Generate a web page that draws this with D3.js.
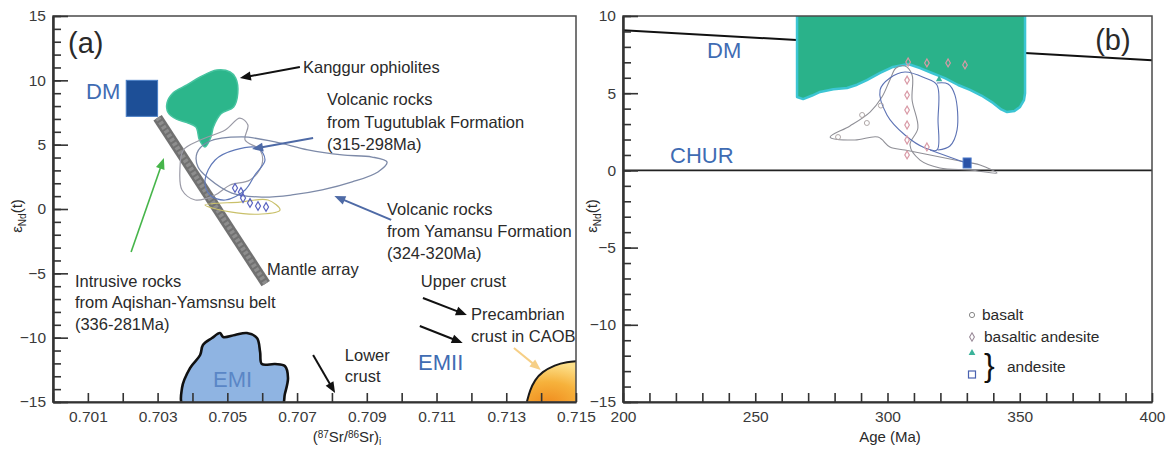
<!DOCTYPE html>
<html><head><meta charset="utf-8">
<script src="https://cdn.jsdelivr.net/npm/d3@7"></script>
<style>
html,body{margin:0;padding:0;background:#fff;}
svg{display:block;font-family:"Liberation Sans",Arial,sans-serif;}
</style></head><body>
<svg id="chart" width="1167" height="452"></svg>
<script>
// ---------- panel (a): (87Sr/86Sr)i vs eNd(t) ----------
const srTicks = [0.701, 0.703, 0.705, 0.707, 0.709, 0.711, 0.713, 0.715];
const epsTicksA = [-15, -10, -5, 0, 5, 10, 15];

const dmBox = [[0.7021, 7.2], [0.7030, 10.0]];
const mantleArray = [[0.7030, 7.1], [0.7061, -5.8]];

const kanggurField = [[0.70327, 8.24], [0.70344, 9.02], [0.70384, 9.64], [0.70422, 10.26], [0.70470, 10.80],
  [0.70508, 10.65], [0.70524, 10.18], [0.70530, 9.02], [0.70518, 7.93], [0.70482, 7.40], [0.70460, 6.37],
  [0.70453, 5.60], [0.70436, 4.82], [0.70420, 5.36], [0.70410, 6.37], [0.70384, 6.72], [0.70354, 6.98], [0.70330, 7.50]];

const tugutublakField = [[0.70413, 4.35], [0.70445, 5.21], [0.70542, 5.60], [0.70637, 5.21], [0.70731, 4.59],
  [0.70829, 4.20], [0.70915, 4.04], [0.70958, 3.65], [0.70932, 2.88], [0.70858, 2.10], [0.70772, 1.48],
  [0.70685, 1.09], [0.70599, 0.93], [0.70513, 1.24], [0.70445, 2.41], [0.70416, 3.26]];

const intrusiveField = [[0.70374, 4.59], [0.70422, 5.36], [0.70494, 6.14], [0.70536, 7.07], [0.70559, 6.53],
  [0.70551, 5.36], [0.70594, 4.59], [0.70599, 3.42], [0.70565, 2.25], [0.70508, 1.87], [0.70465, 1.09],
  [0.70408, 0.70], [0.70370, 1.48], [0.70364, 3.03]];

const yamansuField = [[0.70465, 3.81], [0.70522, 4.59], [0.70588, 4.74], [0.70608, 3.81], [0.70579, 2.64],
  [0.70551, 1.48], [0.70494, 0.70], [0.70450, 1.09], [0.70436, 2.25]];

const andesiteFieldA = [[0.70436, 0.31], [0.70508, -0.23], [0.70599, -0.39], [0.70651, -0.08], [0.70617, 0.70], [0.70536, 0.54]];

const yamansuSamples = [[0.70522, 1.63], [0.70539, 1.32], [0.70545, 0.85], [0.70565, 0.47], [0.70588, 0.23], [0.70611, 0.16]];

const emiField = [[0.70376, -15.4], [0.70370, -13.91], [0.70393, -12.36], [0.70422, -11.35], [0.70430, -10.57],
  [0.70456, -10.03], [0.70479, -9.64], [0.70488, -9.95], [0.70522, -9.79], [0.70556, -9.64], [0.70585, -10.03],
  [0.70594, -11.11], [0.70599, -12.05], [0.70637, -12.05], [0.70665, -12.20], [0.70674, -13.13],
  [0.70665, -14.38], [0.70654, -15.4]];

const caobField = [[0.71359, -15.4], [0.71359, -15.0], [0.71368, -14.07], [0.71382, -13.29], [0.71402, -12.67],
  [0.71440, -12.12], [0.71471, -11.89], [0.71520, -11.78], [0.71560, -11.8], [0.71560, -15.4]];

// ---------- panel (b): Age vs eNd(t) ----------
const ageTicks = [200, 250, 300, 350, 400];
const epsTicksB = [-15, -10, -5, 0, 5, 10];

const dmEvolution = [[200, 9.08], [400, 7.13]];
const churLine = [[200, 0], [400, 0]];

const kanggurAgeField = [[265.8, 10.4], [265.8, 4.75], [268.1, 4.62], [271.5, 4.85], [274.5, 5.08], [279.5, 5.25],
  [284.7, 5.34], [288.5, 5.55], [292.2, 5.85], [297.2, 6.31], [302.1, 6.70], [307.8, 6.89], [312.3, 6.63],
  [316.8, 6.31], [321.7, 5.98], [326.7, 5.53], [331.2, 5.21], [335.5, 4.85], [339.9, 4.37], [343.0, 3.95],
  [345.2, 3.78], [348.0, 3.85], [350.1, 4.11], [351.6, 4.55], [352.0, 5.0], [352.0, 10.4]];

const basaltField = [[278.3, 2.16], [285.8, 2.88], [293.4, 3.78], [297.9, 4.75], [300.9, 5.86], [303.2, 6.63],
  [306.6, 6.76], [309.3, 6.18], [309.3, 4.56], [311.5, 2.75], [308.5, 1.64], [312.3, 0.67], [319.8, 0.16],
  [331.2, 0.03], [341.4, -0.17], [335.0, 0.35], [325.5, 0.67], [316.1, 1.00], [306.6, 1.32], [300.9, 1.52],
  [296.4, 2.16], [287.7, 1.97]];

const basAndesiteFieldA = [[297.2, 5.21], [299.8, 3.59], [306.6, 2.29], [314.2, 1.45], [318.7, 1.32], [319.1, 3.26],
  [318.7, 5.53], [314.2, 5.98], [306.6, 6.37], [300.9, 5.98]];
const basAndesiteFieldB = [[318.7, 5.66], [322.9, 5.60], [325.5, 4.88], [326.3, 2.62], [323.6, 1.58], [319.1, 1.32]];
const andesiteTie = [[316.1, 1.32], [329.7, 0.48]];

const basaltPts = [[281.3, 2.16], [290.4, 3.59], [292.2, 3.07], [297.5, 4.2]];
const basAndesitePts = [[307.8, 7.02], [314.9, 6.96], [322.9, 6.96], [329.3, 6.83],
  [307.4, 5.85], [307.4, 4.88], [307.4, 3.91], [307.4, 2.94], [307.4, 1.97], [307.4, 1.00], [314.9, 1.52]];
const andesiteTriPts = [[319.5, 5.9]];
const andesiteSqPts = [[330.1, 0.48]];

const legendItems = ["basalt", "basaltic andesite", "andesite"];

// ---------- layout ----------
const svg = d3.select("#chart");
const textColor = "#2a2a2a";
const blueText = "#3f6cb3";

const xA = d3.scaleLinear().domain([0.700, 0.715]).range([53, 576]);
const yA = d3.scaleLinear().domain([-15, 15]).range([402, 16]);
const xB = d3.scaleLinear().domain([200, 400]).range([623, 1152]);
const yB = d3.scaleLinear().domain([-15, 10]).range([402, 16]);

const defs = svg.append("defs");
function addClip(id, x, y) {
  defs.append("clipPath").attr("id", id).append("rect")
    .attr("x", x.range()[0]).attr("y", y.range()[1])
    .attr("width", x.range()[1] - x.range()[0]).attr("height", y.range()[0] - y.range()[1]);
}
addClip("clipA", xA, yA);
addClip("clipB", xB, yB);

const caobGrad = defs.append("radialGradient").attr("id", "caobGrad")
  .attr("cx", "30%").attr("cy", "95%").attr("r", "90%");
caobGrad.append("stop").attr("offset", "0%").attr("stop-color", "#f08a1c");
caobGrad.append("stop").attr("offset", "55%").attr("stop-color", "#f6b23c");
caobGrad.append("stop").attr("offset", "100%").attr("stop-color", "#fde08a");

const closed = (x, y) => d3.line().x(d => x(d[0])).y(d => y(d[1])).curve(d3.curveCatmullRomClosed.alpha(0.5));
const straight = (x, y) => d3.line().x(d => x(d[0])).y(d => y(d[1]));

function arrow(g, x, y, from, to, color, width, headLen, headW) {
  const x0 = x(from[0]), y0 = y(from[1]), x1 = x(to[0]), y1 = y(to[1]);
  const dx = x1 - x0, dy = y1 - y0, L = Math.hypot(dx, dy), ux = dx / L, uy = dy / L;
  const bx = x1 - ux * headLen, by = y1 - uy * headLen;
  g.append("line").attr("x1", x0).attr("y1", y0).attr("x2", bx + ux * 1).attr("y2", by + uy * 1)
    .attr("stroke", color).attr("stroke-width", width);
  g.append("path")
    .attr("d", `M${x1},${y1}L${bx - uy * headW / 2},${by + ux * headW / 2}L${bx + uy * headW / 2},${by - ux * headW / 2}Z`)
    .attr("fill", color);
}

function label(g, x, y, d) {
  const t = g.append("text").attr("x", x(d.at[0])).attr("y", y(d.at[1]))
    .attr("font-size", d.size || 16.5).attr("fill", d.color || textColor);
  d.lines.forEach((s, i) => t.append("tspan").attr("x", x(d.at[0])).attr("dy", i ? (d.gap || 22) : 0).text(s));
}

function drawAxes(g, x, y, xMajors, xMinors, yMajors, yMinors, xFmt) {
  const [x0, x1] = x.range(), [yb, yt] = y.range();
  // frame
  g.append("rect").attr("x", x0).attr("y", yt).attr("width", x1 - x0).attr("height", yb - yt)
    .attr("fill", "none").attr("stroke", "#4a4a4a").attr("stroke-width", 1.5);
  g.append("g").attr("transform", `translate(0,${yb})`)
    .call(d3.axisBottom(x).tickValues(xMinors).tickSizeInner(-9).tickSizeOuter(0).tickPadding(9)
      .tickFormat(v => xMajors.some(m => Math.abs(m - v) < 1e-9) ? xFmt(v) : ""));
  g.append("g").attr("transform", `translate(${x0},0)`)
    .call(d3.axisLeft(y).tickValues(yMajors).tickSizeInner(-15).tickSizeOuter(0).tickPadding(7));
  g.append("g").attr("transform", `translate(${x0},0)`)
    .call(d3.axisLeft(y).tickValues(yMinors).tickSizeInner(-8).tickSizeOuter(0).tickFormat(""));
  g.selectAll(".domain").attr("stroke", "#333").attr("stroke-width", 2);
  g.selectAll(".tick line").attr("stroke", "#333").attr("stroke-width", 1.6);
  g.selectAll(".tick text").attr("font-size", 15.5).attr("fill", "#3a3a3a")
    .attr("font-family", "Liberation Sans, Arial, sans-serif");
}

// ================= panel (a) =================
const gA = svg.append("g");
const pA = gA.append("g").attr("clip-path", "url(#clipA)");

// crustal reservoirs
pA.append("path").datum(emiField).attr("d", closed(xA, yA)).attr("fill", "#8fb4e2")
  .attr("stroke", "#111").attr("stroke-width", 2.6).attr("stroke-linejoin", "round");
pA.append("path").datum(caobField).attr("d", d3.line().x(d => xA(d[0])).y(d => yA(d[1])).curve(d3.curveBasis))
  .attr("fill", "url(#caobGrad)").attr("stroke", "none");
pA.append("path").datum(caobField.slice(1, 8)).attr("d", d3.line().x(d => xA(d[0])).y(d => yA(d[1])).curve(d3.curveBasis))
  .attr("fill", "none").attr("stroke", "#1a1a1a").attr("stroke-width", 2);

// mantle array band
pA.append("path").datum(mantleArray).attr("d", straight(xA, yA)).attr("stroke", "#717171").attr("stroke-width", 10);
pA.append("path").datum(mantleArray).attr("d", straight(xA, yA)).attr("stroke", "#8d8d8d").attr("stroke-width", 5)
  .attr("stroke-dasharray", "3,2");

// Kanggur ophiolite field
pA.append("path").datum(kanggurField).attr("d", closed(xA, yA)).attr("fill", "#2cb68b")
  .attr("stroke", "#47c4a0").attr("stroke-width", 1.5);

// DM reservoir
pA.append("rect").attr("x", xA(dmBox[0][0])).attr("y", yA(dmBox[1][1]))
  .attr("width", xA(dmBox[1][0]) - xA(dmBox[0][0])).attr("height", yA(dmBox[0][1]) - yA(dmBox[1][1]))
  .attr("fill", "#1d4f97").attr("stroke", "#4a7fc6").attr("stroke-width", 1);

// volcanic / intrusive fields
pA.append("path").datum(intrusiveField).attr("d", closed(xA, yA)).attr("fill", "none").attr("stroke", "#9a9aa6").attr("stroke-width", 1.2);
pA.append("path").datum(tugutublakField).attr("d", closed(xA, yA)).attr("fill", "none").attr("stroke", "#7d8aa8").attr("stroke-width", 1.3);
pA.append("path").datum(yamansuField).attr("d", closed(xA, yA)).attr("fill", "none").attr("stroke", "#5f78b8").attr("stroke-width", 1.2);
pA.append("path").datum(andesiteFieldA).attr("d", closed(xA, yA)).attr("fill", "none").attr("stroke", "#c9c06a").attr("stroke-width", 1.2);
pA.selectAll(".ysamp").data(yamansuSamples).join("path")
  .attr("transform", d => `translate(${xA(d[0])},${yA(d[1])})`)
  .attr("d", d3.symbol(d3.symbolDiamond, 22)).attr("fill", "none").attr("stroke", "#5a64c0").attr("stroke-width", 1.2);

// annotations
const arrowsA = [
  { from: [0.70708, 11.04], to: [0.70536, 10.18], color: "#111", w: 2 },
  { from: [0.70746, 5.52], to: [0.70571, 4.66], color: "#4e6aa6", w: 2 },
  { from: [0.70970, -0.85], to: [0.70807, 1.01], color: "#4e6aa6", w: 2 },
  { from: [0.70224, -3.34], to: [0.70318, 3.96], color: "#46b54a", w: 1.6 },
  { from: [0.71061, -6.92], to: [0.71187, -8.24], color: "#111", w: 2 },
  { from: [0.71052, -9.09], to: [0.71175, -10.41], color: "#111", w: 2 },
  { from: [0.70746, -11.35], to: [0.70809, -14.30], color: "#111", w: 2 },
  { from: [0.71322, -10.80], to: [0.71399, -12.51], color: "#f6cf86", w: 2 }
];
arrowsA.forEach(a => arrow(gA, xA, yA, a.from, a.to, a.color, a.w, 11, 9));

const labelsA = [
  { lines: ["(a)"], at: [0.70043, 12.12], size: 29 },
  { lines: ["DM"], at: [0.70095, 8.55], size: 22, color: blueText },
  { lines: ["Kanggur ophiolites"], at: [0.70717, 10.57] },
  { lines: ["Volcanic rocks", "from Tugutublak Formation", "(315-298Ma)"], at: [0.70786, 8.08], gap: 22.5 },
  { lines: ["Volcanic rocks", "from Yamansu Formation", "(324-320Ma)"], at: [0.70958, -0.47], gap: 22 },
  { lines: ["Mantle array"], at: [0.70614, -5.13] },
  { lines: ["Intrusive rocks", "from Aqishan-Yamsnsu belt", "(336-281Ma)"], at: [0.70063, -6.06], gap: 21.5 },
  { lines: ["Upper crust"], at: [0.71055, -6.06] },
  { lines: ["Precambrian", "crust in CAOB"], at: [0.71199, -8.63], gap: 22 },
  { lines: ["Lower", "crust"], at: [0.70837, -11.81], gap: 21 },
  { lines: ["EMII"], at: [0.71047, -12.55], size: 22, color: blueText },
  { lines: ["EMI"], at: [0.70459, -13.80], size: 22, color: "#5a86c6" }
];
labelsA.forEach(d => label(gA, xA, yA, d));

drawAxes(gA, xA, yA, srTicks, d3.range(0, 16).map(i => +(0.700 + i * 0.001).toFixed(3)),
  epsTicksA, d3.range(-15, 16), d3.format(".3f"));

// axis titles (a)
const xtA = gA.append("text").attr("x", 347).attr("y", 442).attr("text-anchor", "middle")
  .attr("font-size", 15).attr("fill", textColor);
xtA.append("tspan").text("(");
xtA.append("tspan").attr("font-size", 10).attr("dy", -4).text("87");
xtA.append("tspan").attr("dy", 4).text("Sr/");
xtA.append("tspan").attr("font-size", 10).attr("dy", -4).text("86");
xtA.append("tspan").attr("dy", 4).text("Sr)");
xtA.append("tspan").attr("font-size", 10).attr("dy", 3).text("i");

function epsTitle(g, cx, cy) {
  const t = g.append("text").attr("transform", `translate(${cx},${cy}) rotate(-90)`)
    .attr("text-anchor", "middle").attr("font-size", 15).attr("fill", textColor);
  t.append("tspan").text("ε");
  t.append("tspan").attr("font-size", 10).attr("dy", 4).text("Nd");
  t.append("tspan").attr("dy", -4).text("(t)");
}
epsTitle(gA, 22, 216);

// ================= panel (b) =================
const gB = svg.append("g");
const pB = gB.append("g").attr("clip-path", "url(#clipB)");

pB.append("path").datum(dmEvolution).attr("d", straight(xB, yB)).attr("stroke", "#111").attr("stroke-width", 2);
pB.append("path").datum(churLine).attr("d", straight(xB, yB)).attr("stroke", "#222").attr("stroke-width", 1.6);

pB.append("path").datum(kanggurAgeField).attr("d", d3.line().x(d => xB(d[0])).y(d => yB(d[1])).curve(d3.curveLinearClosed))
  .attr("fill", "#2ab28a").attr("stroke", "#3cc5d3").attr("stroke-width", 2.5).attr("stroke-linejoin", "round");

pB.append("path").datum(basaltField).attr("d", closed(xB, yB)).attr("fill", "none").attr("stroke", "#8f8f96").attr("stroke-width", 1.1);
pB.append("path").datum(basAndesiteFieldA).attr("d", closed(xB, yB)).attr("fill", "none").attr("stroke", "#5c72b4").attr("stroke-width", 1.1);
pB.append("path").datum(basAndesiteFieldB).attr("d", d3.line().x(d => xB(d[0])).y(d => yB(d[1])).curve(d3.curveCatmullRom))
  .attr("fill", "none").attr("stroke", "#5c72b4").attr("stroke-width", 1.1);
pB.append("path").datum(andesiteTie).attr("d", straight(xB, yB)).attr("stroke", "#5c72b4").attr("stroke-width", 1.1);

pB.selectAll(".bas").data(basaltPts).join("circle")
  .attr("cx", d => xB(d[0])).attr("cy", d => yB(d[1])).attr("r", 2.5)
  .attr("fill", "none").attr("stroke", "#b0a8a8").attr("stroke-width", 1);
pB.selectAll(".basand").data(basAndesitePts).join("path")
  .attr("transform", d => `translate(${xB(d[0])},${yB(d[1])})`)
  .attr("d", d3.symbol(d3.symbolDiamond, 18)).attr("fill", "none").attr("stroke", "#d99aa6").attr("stroke-width", 1.2);
pB.selectAll(".andtri").data(andesiteTriPts).join("path")
  .attr("transform", d => `translate(${xB(d[0])},${yB(d[1])})`)
  .attr("d", d3.symbol(d3.symbolTriangle, 18)).attr("fill", "#3bb39a");
pB.selectAll(".andsq").data(andesiteSqPts).join("rect")
  .attr("x", d => xB(d[0]) - 4).attr("y", d => yB(d[1]) - 5).attr("width", 8).attr("height", 10)
  .attr("fill", "#2a52a6").attr("stroke", "#4a78c8").attr("stroke-width", 1);

const labelsB = [
  { lines: ["DM"], at: [231.8, 7.28], size: 22, color: blueText },
  { lines: ["CHUR"], at: [217.8, 0.48], size: 22, color: blueText },
  { lines: ["(b)"], at: [378.5, 7.79], size: 29 }
];
labelsB.forEach(d => label(gB, xB, yB, d));

drawAxes(gB, xB, yB, ageTicks, d3.range(200, 401, 10), epsTicksB, d3.range(-15, 11), d3.format("d"));

gB.append("text").attr("x", 890).attr("y", 442).attr("text-anchor", "middle")
  .attr("font-size", 15).attr("fill", textColor).text("Age (Ma)");
epsTitle(gB, 597, 216);

// legend (b)
const lg = gB.append("g").attr("transform", "translate(972,315)");
lg.append("circle").attr("cx", 0).attr("cy", 0).attr("r", 2.6).attr("fill", "none").attr("stroke", "#888").attr("stroke-width", 1);
lg.append("path").attr("transform", "translate(0,22)").attr("d", d3.symbol(d3.symbolDiamond, 20))
  .attr("fill", "none").attr("stroke", "#9a8a98").attr("stroke-width", 1.1);
lg.append("path").attr("transform", "translate(0,38)").attr("d", d3.symbol(d3.symbolTriangle, 20)).attr("fill", "#3bb39a");
lg.append("rect").attr("x", -3.5).attr("y", 56).attr("width", 7).attr("height", 7)
  .attr("fill", "none").attr("stroke", "#4a62b0").attr("stroke-width", 1.2);
lg.append("text").attr("x", 10).attr("y", 5).attr("font-size", 15.5).attr("fill", textColor).text(legendItems[0]);
lg.append("text").attr("x", 12).attr("y", 27).attr("font-size", 15.5).attr("fill", textColor).text(legendItems[1]);
lg.append("text").attr("x", 12).attr("y", 61).attr("font-size", 32).attr("fill", "#111").text("}");
lg.append("text").attr("x", 35).attr("y", 57).attr("font-size", 15.5).attr("fill", textColor).text(legendItems[2]);
</script>
</body></html>
